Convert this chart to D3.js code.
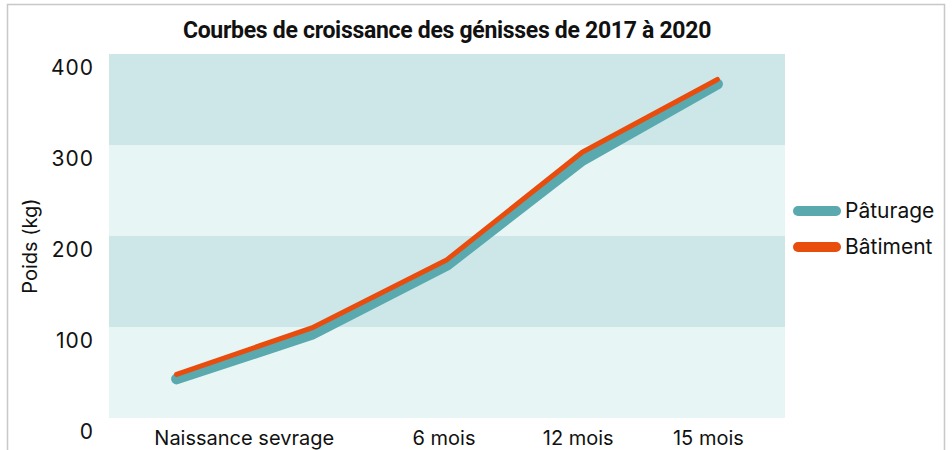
<!DOCTYPE html>
<html>
<head>
<meta charset="utf-8">
<script src="https://cdn.jsdelivr.net/npm/d3@7"></script>
<style>
  body { margin: 0; background: #fff; }
  text { font-family: Inter, "Noto Sans", sans-serif; fill: #111; }
</style>
</head>
<body>
<div id="grafico"></div>
<script>
// données
const categories = ["Naissance", "Sevrage", "6 mois", "12 mois", "15 mois"];
const paturage = [43, 92, 168, 283, 367];
const batiment = [48, 99, 174, 292, 372];
const tickLabels = ["Naissance sevrage", "6 mois", "12 mois", "15 mois"];
const yTicks = [0, 100, 200, 300, 400];
const series = [
  { nom: "Pâturage", valeurs: paturage },
  { nom: "Bâtiment", valeurs: batiment },
];

const width = 952;
const height = 450;
const margin = { top: 54, right: 167, bottom: 32, left: 109 };

const svg = d3
  .select("#grafico")
  .append("svg")
  .attr("width", width)
  .attr("height", height);

// cadre
svg
  .append("path")
  .attr("d", `M7.5,${height} V4.5 H944.5 V${height}`)
  .attr("fill", "none")
  .attr("stroke", "#c8c8c8")
  .attr("stroke-width", 1.5);

const x = d3
  .scalePoint()
  .domain(categories)
  .range([margin.left, width - margin.right])
  .padding(0.5);

const y = d3
  .scaleLinear()
  .domain([0, 400])
  .range([height - margin.bottom, margin.top]);

const color = d3
  .scaleOrdinal()
  .domain(series.map((s) => s.nom))
  .range(["#5aa9ae", "#e84d0e"]);

// bandes de fond
const bandes = d3.pairs(yTicks);
svg
  .append("g")
  .selectAll("rect")
  .data(bandes)
  .join("rect")
  .attr("x", margin.left)
  .attr("y", (d) => y(d[1]))
  .attr("width", width - margin.right - margin.left)
  .attr("height", (d) => y(d[0]) - y(d[1]))
  .attr("fill", (d, i) => (i % 2 === 0 ? "#e8f5f5" : "#cde7e8"));

// Titre
svg
  .append("text")
  .attr("x", 447)
  .attr("y", 38)
  .attr("text-anchor", "middle")
  .style("font-family", "Roboto")
  .style("font-weight", "700")
  .style("font-size", "23px")
  .style("letter-spacing", "-0.3px")
  .text("Courbes de croissance des génisses de 2017 à 2020");

// Axe Y (étiquettes seulement, décalées sous la limite des bandes)
const axeY = svg
  .append("g")
  .attr("transform", `translate(${margin.left - 15},14)`)
  .call(d3.axisLeft(y).tickValues(yTicks).tickSize(0).tickPadding(0));
axeY.select(".domain").remove();
axeY
  .selectAll("text")
  .style("font-size", "21px")
  .style("font-family", "Inter")
  .style("letter-spacing", "1px")
  .attr("fill", "#111");

svg
  .append("text")
  .attr("transform", `translate(37,${246}) rotate(-90)`)
  .attr("text-anchor", "middle")
  .style("font-size", "20px")
  .text("Poids (kg)");

// Axe X
const posLabel = [
  (x(categories[0]) + x(categories[1])) / 2,
  x(categories[2]) - 3,
  x(categories[3]) - 4,
  x(categories[4]) - 9,
];
svg
  .append("g")
  .selectAll("text")
  .data(tickLabels)
  .join("text")
  .attr("x", (d, i) => posLabel[i])
  .attr("y", 445)
  .attr("text-anchor", "middle")
  .style("font-size", "20px")
  .text((d) => d);

// Courbes
const line = d3
  .line()
  .x((d, i) => x(categories[i]))
  .y((d) => y(d));

svg
  .append("g")
  .selectAll("path")
  .data(series)
  .join("path")
  .attr("d", (d) => line(d.valeurs))
  .attr("fill", "none")
  .attr("stroke", (d) => color(d.nom))
  .attr("stroke-width", (d, i) => (i === 0 ? 11 : 5))
  .attr("stroke-linecap", "round")
  .attr("stroke-linejoin", "round");

// Légende
const legend = svg.append("g").attr("transform", `translate(798, 211)`);
series.forEach((s, i) => {
  const g = legend.append("g").attr("transform", `translate(0, ${i * 36})`);
  g.append("line")
    .attr("x1", 0)
    .attr("x2", 38)
    .attr("stroke", color(s.nom))
    .attr("stroke-width", 10)
    .attr("stroke-linecap", "round");
  g.append("text")
    .attr("x", 47)
    .attr("y", 7)
    .style("font-size", "21px")
    .text(s.nom);
});
</script>
</body>
</html>
